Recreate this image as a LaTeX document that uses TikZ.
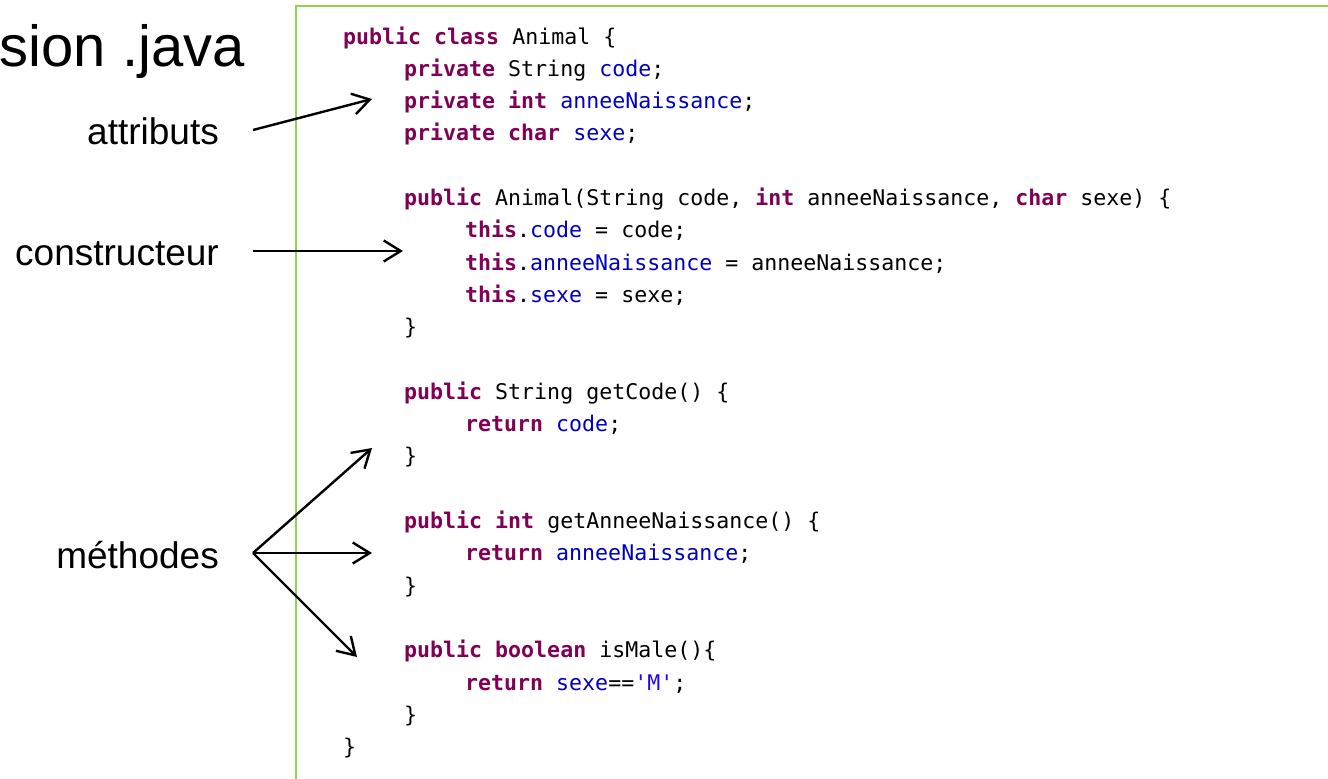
\documentclass[tikz,border=0pt]{standalone}
\usepackage{fontspec}
\setmainfont{Liberation Sans}
\newfontfamily\codefont{DejaVu Sans Mono}
\usetikzlibrary{arrows.meta}
\definecolor{kwcol}{HTML}{7F0055}
\definecolor{fldcol}{HTML}{0000C0}
\definecolor{strcol}{HTML}{2A00FF}
\definecolor{framegreen}{HTML}{92D050}
\newcommand\kw[1]{\textcolor{kwcol}{\bfseries #1}}
\newcommand\fd[1]{\textcolor{fldcol}{#1}}
\newcommand\st[1]{\textcolor{strcol}{#1}}
\tikzset{
  codeline/.style={anchor=base west, inner sep=0pt, font=\codefont\fontsize{21.6pt}{26pt}\selectfont},
  lbl/.style={anchor=base east, inner sep=0pt, font=\fontsize{37pt}{40pt}\selectfont},
  pointer/.style={line width=2.4pt, -{Straight Barb[length=17pt,width=21pt,line width=2.4pt]}},
}
\begin{document}
\begin{tikzpicture}[x=1pt,y=-1pt]
\useasboundingbox (0,0) rectangle (1328,779);
\fill[white] (0,0) rectangle (1328,779);

% heading, cut at the left edge
\node[anchor=base east, inner sep=0pt, font=\fontsize{58pt}{60pt}\selectfont] (title) at (245,66) {sion .java};

% frame around the listing
\draw[framegreen, line width=2pt] (296,790) -- (296,6) -- (1340,6);

% listing
\def\bl#1{\fpeval{44+32.3*#1}}
\node[codeline] (l0)  at (343,{\bl{0}})  {\kw{public} \kw{class} Animal \{};
\node[codeline] (l1)  at (404,{\bl{1}})  {\kw{private} String \fd{code};};
\node[codeline] (l2)  at (404,{\bl{2}})  {\kw{private} \kw{int} \fd{anneeNaissance};};
\node[codeline] (l3)  at (404,{\bl{3}})  {\kw{private} \kw{char} \fd{sexe};};
\node[codeline] (l5)  at (404,{\bl{5}})  {\kw{public} Animal(String code, \kw{int} anneeNaissance, \kw{char} sexe) \{};
\node[codeline] (l6)  at (465,{\bl{6}})  {\kw{this}.\fd{code} = code;};
\node[codeline] (l7)  at (465,{\bl{7}})  {\kw{this}.\fd{anneeNaissance} = anneeNaissance;};
\node[codeline] (l8)  at (465,{\bl{8}})  {\kw{this}.\fd{sexe} = sexe;};
\node[codeline] (l9)  at (404,{\bl{9}})  {\}};
\node[codeline] (l11) at (404,{\bl{11}}) {\kw{public} String getCode() \{};
\node[codeline] (l12) at (465,{\bl{12}}) {\kw{return} \fd{code};};
\node[codeline] (l13) at (404,{\bl{13}}) {\}};
\node[codeline] (l15) at (404,{\bl{15}}) {\kw{public} \kw{int} getAnneeNaissance() \{};
\node[codeline] (l16) at (465,{\bl{16}}) {\kw{return} \fd{anneeNaissance};};
\node[codeline] (l17) at (404,{\bl{17}}) {\}};
\node[codeline] (l19) at (404,{\bl{19}}) {\kw{public} \kw{boolean} isMale()\{};
\node[codeline] (l20) at (465,{\bl{20}}) {\kw{return} \fd{sexe}==\st{\char"27 M\char"27};};
\node[codeline] (l21) at (404,{\bl{21}}) {\}};
\node[codeline] (l22) at (343,{\bl{22}}) {\}};

% side labels
\node[lbl] (attr) at (219,144) {attributs};
\node[lbl] (ctor) at (219,265) {constructeur};
\node[lbl] (meth) at (219,568) {méthodes};

% arrow ends
\coordinate (attrS) at (253,130);
\coordinate (attrT) at (372,99);
\coordinate (ctorS) at (253,251);
\coordinate (ctorT) at (403,251);
\coordinate (methS) at (253,553);
\coordinate (methA) at (372,448);
\coordinate (methB) at (372,553);
\coordinate (methC) at (357,657);

\draw[pointer] (attrS) -- (attrT);
\draw[pointer] (ctorS) -- (ctorT);
\draw[pointer] (methS) -- (methA);
\draw[pointer] (methS) -- (methB);
\draw[pointer] (methS) -- (methC);
\end{tikzpicture}
\end{document}
